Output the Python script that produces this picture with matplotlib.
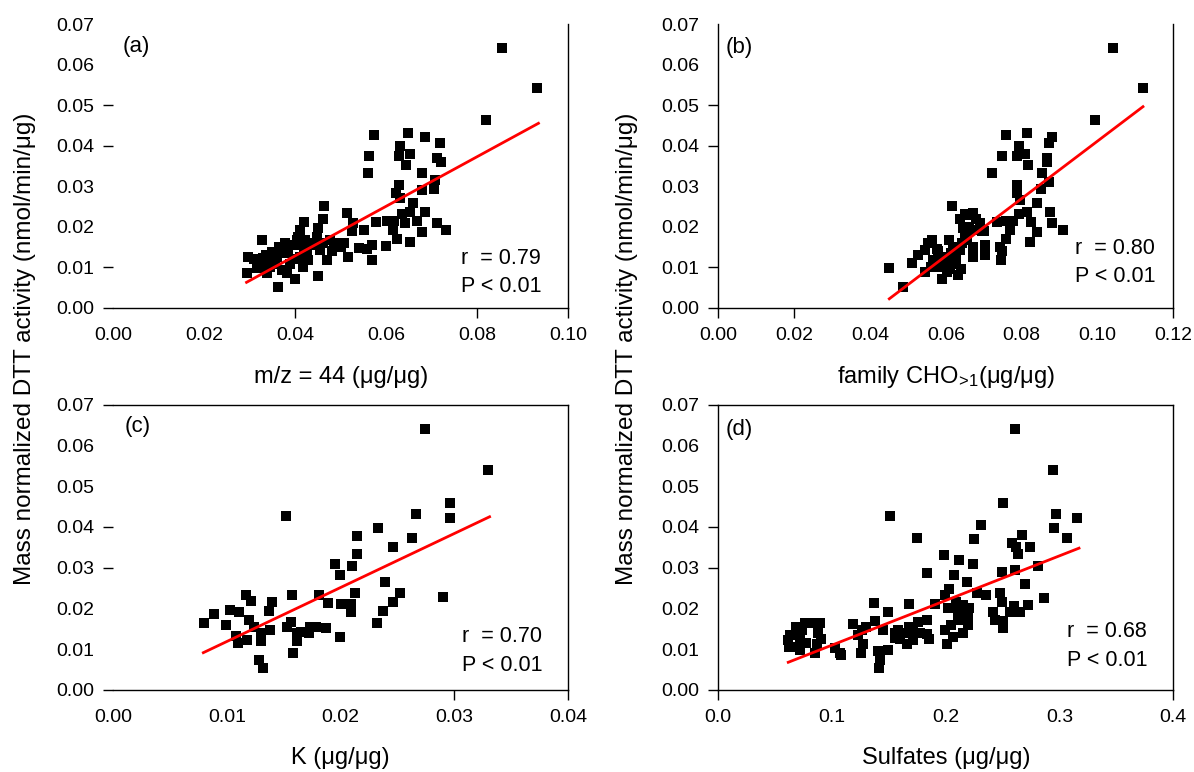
import matplotlib
matplotlib.use('Agg')
import matplotlib.pyplot as plt

plt.rcParams['font.family'] = ['Liberation Sans', 'DejaVu Sans']
plt.rcParams['mathtext.fontset'] = 'custom'
plt.rcParams['mathtext.rm'] = 'Liberation Sans'
plt.rcParams['mathtext.it'] = 'Liberation Sans:italic'
plt.rcParams['mathtext.default'] = 'regular'

# ---------------- data ----------------
y_ticks = [0.00, 0.01, 0.02, 0.03, 0.04, 0.05, 0.06, 0.07]

# panel (a): m/z = 44
a_x = [0.0855, 0.0932, 0.0820, 0.0574, 0.0649, 0.0686, 0.0719, 0.0631, 0.0562, 0.0628,
       0.0652, 0.0644, 0.0711, 0.0721, 0.0561, 0.0680, 0.0707, 0.0629, 0.0678, 0.0705,
       0.0622, 0.0630, 0.0660, 0.0652, 0.0686, 0.0634, 0.0464, 0.0513, 0.0462, 0.0419,
       0.0577, 0.0601, 0.0618, 0.0641, 0.0667, 0.0711, 0.0732, 0.0528, 0.0451, 0.0411,
       0.0524, 0.0552, 0.0616, 0.0680, 0.0623, 0.0652, 0.0599, 0.0570, 0.0541, 0.0557,
       0.0568, 0.0516, 0.0508, 0.0486, 0.0469, 0.0455, 0.0433, 0.0422, 0.0403, 0.0397,
       0.0377, 0.0328, 0.0297, 0.0315, 0.0293, 0.0345, 0.0359, 0.0374, 0.0348, 0.0330,
       0.0363, 0.0400, 0.0450, 0.0381, 0.0418, 0.0429, 0.0388, 0.0411, 0.0425, 0.0462,
       0.0476, 0.0491, 0.0447, 0.0407, 0.0356, 0.0322, 0.0337, 0.0370,
       0.0335, 0.0350, 0.0385, 0.0395, 0.0420, 0.0440, 0.0500, 0.0480, 0.0365, 0.0310]
a_y = [0.0642, 0.0541, 0.0462, 0.0426, 0.0432, 0.0422, 0.0406, 0.0398, 0.0374, 0.0374,
       0.0379, 0.0352, 0.0369, 0.0360, 0.0332, 0.0333, 0.0315, 0.0303, 0.0291, 0.0293,
       0.0282, 0.0270, 0.0259, 0.0237, 0.0237, 0.0231, 0.0251, 0.0233, 0.0218, 0.0212,
       0.0212, 0.0215, 0.0215, 0.0210, 0.0214, 0.0208, 0.0192, 0.0208, 0.0196, 0.0192,
       0.0190, 0.0192, 0.0192, 0.0188, 0.0169, 0.0163, 0.0152, 0.0155, 0.0147, 0.0144,
       0.0118, 0.0126, 0.0159, 0.0160, 0.0118, 0.0142, 0.0155, 0.0167, 0.0167, 0.0155,
       0.0159, 0.0167, 0.0126, 0.0097, 0.0085, 0.0101, 0.0126, 0.0134, 0.0138, 0.0122,
       0.0052, 0.0072, 0.0078, 0.0085, 0.0101, 0.0118, 0.0109, 0.0126, 0.0138, 0.0159,
       0.0167, 0.0151, 0.0175, 0.0175, 0.0109, 0.0109, 0.0085, 0.0093,
       0.0130, 0.0115, 0.0140, 0.0120, 0.0145, 0.0160, 0.0150, 0.0140, 0.0150, 0.0120]
a_fit_x = [0.0293, 0.0935]
a_fit_y = [0.00626, 0.0455]
a_xticks = [0.00, 0.02, 0.04, 0.06, 0.08, 0.10]

# panel (b): family CHO>1
b_x = [0.1042, 0.1120, 0.0994, 0.0758, 0.0813, 0.0880, 0.0871, 0.0794, 0.0748, 0.0787,
       0.0809, 0.0818, 0.0868, 0.0868, 0.0721, 0.0855, 0.0873, 0.0787, 0.0851, 0.0789,
       0.0796, 0.0840, 0.0813, 0.0875, 0.0794, 0.0617, 0.0673, 0.0657, 0.0637, 0.0734,
       0.0760, 0.0778, 0.0826, 0.0881, 0.0908, 0.0690, 0.0646, 0.0673, 0.0695, 0.0769,
       0.0840, 0.0760, 0.0822, 0.0703, 0.0743, 0.0673, 0.0747, 0.0746, 0.0673, 0.0703,
       0.0564, 0.0609, 0.0545, 0.0527, 0.0512, 0.0451, 0.0488, 0.0545, 0.0591, 0.0631,
       0.0585, 0.0567, 0.0593, 0.0613, 0.0637, 0.0655, 0.0620, 0.0602, 0.0576, 0.0554,
       0.0628, 0.0651, 0.0642,
       0.0600, 0.0580, 0.0620, 0.0660, 0.0680, 0.0650, 0.0700, 0.0560, 0.0610, 0.0640]
b_y = [0.0642, 0.0541, 0.0462, 0.0426, 0.0432, 0.0422, 0.0406, 0.0398, 0.0374, 0.0374,
       0.0379, 0.0352, 0.0369, 0.0360, 0.0332, 0.0333, 0.0311, 0.0303, 0.0293, 0.0282,
       0.0266, 0.0259, 0.0237, 0.0235, 0.0231, 0.0251, 0.0233, 0.0229, 0.0218, 0.0212,
       0.0215, 0.0215, 0.0212, 0.0208, 0.0192, 0.0208, 0.0196, 0.0192, 0.0190, 0.0192,
       0.0188, 0.0169, 0.0163, 0.0155, 0.0149, 0.0151, 0.0141, 0.0118, 0.0124, 0.0130,
       0.0167, 0.0167, 0.0142, 0.0130, 0.0111, 0.0097, 0.0052, 0.0089, 0.0072, 0.0081,
       0.0101, 0.0118, 0.0126, 0.0134, 0.0142, 0.0167, 0.0109, 0.0089, 0.0146, 0.0159,
       0.0118, 0.0179, 0.0159,
       0.0120, 0.0140, 0.0150, 0.0200, 0.0220, 0.0230, 0.0190, 0.0100, 0.0095, 0.0095]
b_fit_x = [0.0451, 0.1120]
b_fit_y = [0.0022, 0.0496]
b_xticks = [0.00, 0.02, 0.04, 0.06, 0.08, 0.10, 0.12]

# panel (c): K
c_x = [0.02746, 0.0330, 0.0296, 0.0296, 0.0266, 0.0152, 0.0233, 0.0263, 0.0214, 0.0246,
       0.0214, 0.0195, 0.0210, 0.0199, 0.0239, 0.0252, 0.0290, 0.0213, 0.0246, 0.0237,
       0.0232, 0.0181, 0.0189, 0.0200, 0.0209, 0.0209, 0.0157, 0.0199, 0.0187, 0.0178,
       0.0172, 0.0162, 0.0158, 0.0153, 0.0156, 0.0138, 0.0140, 0.0137, 0.0117, 0.0121,
       0.0103, 0.0111, 0.0089, 0.0080, 0.0099, 0.0119, 0.0124, 0.0130, 0.0108, 0.0110,
       0.0118, 0.0130, 0.0128, 0.0132, 0.0165, 0.0173, 0.0162]
c_y = [0.0640, 0.0540, 0.0460, 0.0422, 0.0432, 0.0426, 0.0398, 0.0374, 0.0379, 0.0352,
       0.0334, 0.0309, 0.0305, 0.0282, 0.0266, 0.0239, 0.0227, 0.0237, 0.0217, 0.0194,
       0.0165, 0.0233, 0.0214, 0.0211, 0.0211, 0.0192, 0.0233, 0.0131, 0.0151, 0.0155,
       0.0141, 0.0119, 0.0092, 0.0155, 0.0168, 0.0147, 0.0217, 0.0195, 0.0233, 0.0218,
       0.0196, 0.0192, 0.0186, 0.0165, 0.0159, 0.0172, 0.0155, 0.0139, 0.0133, 0.0116,
       0.0123, 0.0119, 0.0074, 0.0055, 0.0143, 0.0155, 0.0139]
c_fit_x = [0.00792, 0.0331]
c_fit_y = [0.00916, 0.0425]
c_xticks = [0.00, 0.01, 0.02, 0.03, 0.04]

# panel (d): Sulfates
d_x = [0.2608, 0.2939, 0.2505, 0.2969, 0.3150, 0.2951, 0.3062, 0.1509, 0.1744, 0.2309,
       0.2248, 0.2667, 0.2579, 0.2740, 0.2637, 0.2617, 0.1984, 0.2116, 0.2242, 0.2813,
       0.1837, 0.2072, 0.2491, 0.2608, 0.2183, 0.2696, 0.2031, 0.1993, 0.2271, 0.2353,
       0.2476, 0.2866, 0.2491, 0.2719, 0.1369, 0.1495, 0.1679, 0.1905, 0.2087, 0.2154,
       0.2022, 0.2110, 0.2198, 0.2418, 0.2564, 0.2652, 0.2432, 0.2505, 0.2198, 0.2110,
       0.1993, 0.2060, 0.2007, 0.1832, 0.1832, 0.1758, 0.1714, 0.1714, 0.1641, 0.1656,
       0.1582, 0.1553, 0.1495, 0.1421, 0.1415, 0.1377, 0.1451, 0.1187, 0.1260, 0.1275,
       0.1254, 0.1026, 0.1070, 0.0894, 0.0879, 0.0864, 0.0850, 0.0762, 0.0733, 0.0718,
       0.0718, 0.0630, 0.0659, 0.0615,
       0.0680, 0.0700, 0.0770, 0.0830, 0.0900, 0.0625, 0.1080, 0.1230, 0.1300, 0.1600,
       0.1680, 0.1770, 0.1850, 0.2050, 0.2150, 0.2200, 0.2500, 0.2600, 0.1400, 0.1550]
d_y = [0.0640, 0.0540, 0.0460, 0.0432, 0.0421, 0.0398, 0.0374, 0.0426, 0.0374, 0.0405,
       0.0370, 0.0380, 0.0361, 0.0352, 0.0334, 0.0352, 0.0331, 0.0319, 0.0309, 0.0305,
       0.0286, 0.0282, 0.0290, 0.0294, 0.0266, 0.0260, 0.0249, 0.0233, 0.0237, 0.0233,
       0.0237, 0.0225, 0.0217, 0.0209, 0.0214, 0.0192, 0.0211, 0.0211, 0.0217, 0.0209,
       0.0200, 0.0192, 0.0184, 0.0192, 0.0192, 0.0192, 0.0172, 0.0151, 0.0159, 0.0172,
       0.0147, 0.0131, 0.0114, 0.0172, 0.0137, 0.0168, 0.0147, 0.0123, 0.0139, 0.0114,
       0.0147, 0.0127, 0.0098, 0.0074, 0.0053, 0.0170, 0.0147, 0.0162, 0.0147, 0.0114,
       0.0090, 0.0102, 0.0090, 0.0165, 0.0139, 0.0114, 0.0090, 0.0165, 0.0147, 0.0123,
       0.0098, 0.0135, 0.0106, 0.0123,
       0.0155, 0.0135, 0.0115, 0.0165, 0.0125, 0.0105, 0.0085, 0.0135, 0.0155, 0.0125,
       0.0155, 0.0140, 0.0125, 0.0160, 0.0140, 0.0200, 0.0170, 0.0205, 0.0095, 0.0140]
d_fit_x = [0.0615, 0.3171]
d_fit_y = [0.0068, 0.0348]
d_xticks = [0.0, 0.1, 0.2, 0.3, 0.4]

panel_labels = ['(a)', '(b)', '(c)', '(d)']
r_values = ['0.79', '0.80', '0.70', '0.68']
x_labels = ['m/z = 44 (\u03bcg/\u03bcg)', r'family CHO$_{\!>\!1}$(' + '\u03bcg/\u03bcg)',
            'K (\u03bcg/\u03bcg)', 'Sulfates (\u03bcg/\u03bcg)']
y_label = 'Mass normalized DTT activity (nmol/min/\u03bcg)'

# ---------------- figure ----------------
W, H = 1194, 772
fig = plt.figure(figsize=(W / 100, H / 100), dpi=100)

def ax_rect(x0, x1, ytop, ybot):
    return [x0 / W, 1 - ybot / H, (x1 - x0) / W, (ybot - ytop) / H]

rects = [ax_rect(113.3, 568.0, 24.0, 307.7),
         ax_rect(718.3, 1173.3, 24.0, 307.7),
         ax_rect(113.3, 568.0, 404.7, 690.0),
         ax_rect(718.3, 1173.3, 404.7, 690.0)]

data = [(a_x, a_y, a_fit_x, a_fit_y, a_xticks, '%.2f'),
        (b_x, b_y, b_fit_x, b_fit_y, b_xticks, '%.2f'),
        (c_x, c_y, c_fit_x, c_fit_y, c_xticks, '%.2f'),
        (d_x, d_y, d_fit_x, d_fit_y, d_xticks, '%.1f')]

# which spines / tick marks remain visible in the reference
hidden_spines = [['left', 'top'], ['top'], ['left'], []]
vis_yticks = [[0, 1, 4, 5], [0, 1, 4, 5], [0, 3, 4, 7], [0, 3, 4, 7]]
vis_xticks = [[2, 4, 5], [0, 1, 6], [3, 4], [0, 4]]

r_pos = [(0.765, 0.175, 0.073), (0.784, 0.210, 0.109),
         (0.766, 0.187, 0.085), (0.767, 0.204, 0.103)]
lab_pos = [(0.021, 0.922), (0.017, 0.917), (0.024, 0.925), (0.017, 0.914)]
xlab_y = [-0.244, -0.244, -0.238, -0.238]

for i in range(4):
    xs, ys, fx, fy, xt, fmt = data[i]
    ax = fig.add_axes(rects[i])
    ax.scatter(xs, ys, marker='s', s=62, color='black', linewidths=0, zorder=3)
    ax.plot(fx, fy, color='#ff0000', lw=2.0, zorder=4)
    ax.set_xlim(xt[0], xt[-1])
    ax.set_ylim(0, 0.07)
    ax.set_xticks(xt)
    ax.set_xticklabels([fmt % v for v in xt])
    ax.set_yticks(y_ticks)
    ax.set_yticklabels(['%.2f' % v for v in y_ticks])
    ax.tick_params(direction='out', length=7.2, width=1.0, labelsize=14, pad=6.5)
    for s in hidden_spines[i]:
        ax.spines[s].set_visible(False)
    for sp in ax.spines.values():
        sp.set_linewidth(1.0)
    for k, t in enumerate(ax.yaxis.get_major_ticks()):
        if k not in vis_yticks[i]:
            t.tick1line.set_visible(False)
    for k, t in enumerate(ax.xaxis.get_major_ticks()):
        if k not in vis_xticks[i]:
            t.tick1line.set_visible(False)
    ax.set_xlabel(x_labels[i], fontsize=17)
    ax.xaxis.set_label_coords(0.5, xlab_y[i])
    ax.xaxis.label.set_verticalalignment('center')
    rx, ry1, ry2 = r_pos[i]
    ax.text(rx, ry1, 'r  = ' + r_values[i], transform=ax.transAxes,
            fontsize=15.5, ha='left', va='center')
    ax.text(rx, ry2, 'P < 0.01', transform=ax.transAxes,
            fontsize=15.5, ha='left', va='center')
    lx, ly = lab_pos[i]
    ax.text(lx, ly, panel_labels[i], transform=ax.transAxes,
            fontsize=16, ha='left', va='center')

fig.text(25 / W, 1 - 349 / H, y_label, rotation=90, fontsize=17.5,
         ha='center', va='center')
fig.text(627 / W, 1 - 349 / H, y_label, rotation=90, fontsize=17.5,
         ha='center', va='center')

fig.savefig('out.png', dpi=100)
